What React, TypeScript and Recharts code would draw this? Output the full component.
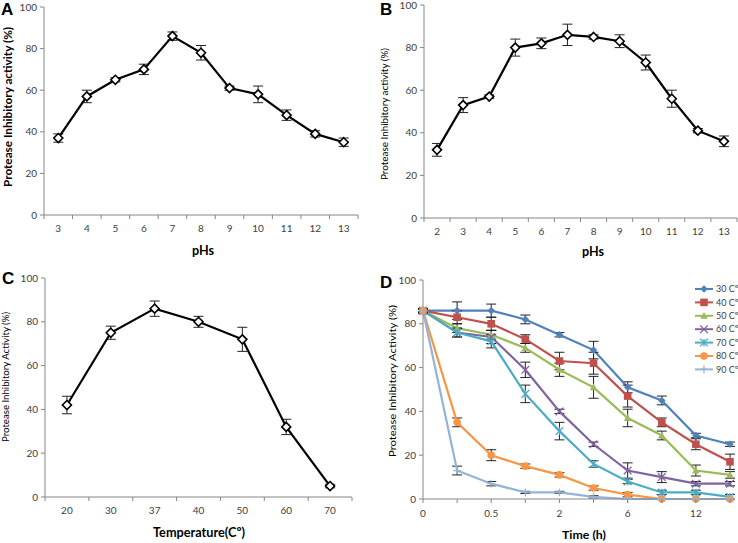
import React from "react";
import { ErrorBar, Line, LineChart, XAxis, YAxis } from "recharts";

// panel A: pH stability
const phA = ["3", "4", "5", "6", "7", "8", "9", "10", "11", "12", "13"];
const activityA = [37, 57, 65, 70, 86, 78, 61, 58, 48, 39, 35];
const errorA = [2, 3, 1, 2.5, 2, 3.5, 1, 4, 2.5, 1.5, 2];

// panel B: pH stability
const phB = ["2", "3", "4", "5", "6", "7", "8", "9", "10", "11", "12", "13"];
const activityB = [32, 53, 57, 80, 82, 86, 85, 83, 73, 56, 41, 36];
const errorB = [3, 3.5, 0.8, 4, 2.5, 5, 1, 3, 3.5, 4, 1, 2.5];

// panel C: temperature
const tempC = ["20", "30", "37", "40", "50", "60", "70"];
const activityC = [42, 75, 86, 80, 72, 32, 5];
const errorC = [4, 3, 3.5, 2.5, 5.5, 3.5, 0.8];

// panel D: thermal stability over time
const timeD = ["0", "0.25", "0.5", "1", "2", "4", "6", "9", "12", "24"];
const timeLabelsD = ["0", "", "0.5", "", "2", "", "6", "", "12", ""];
const seriesNames = ["30 Cº", "40 Cº", "50 Cº", "60 Cº", "70 Cº", "80 Cº", "90 Cº"];
const seriesColors = ["#4F81BD", "#C0504D", "#9BBB59", "#8064A2", "#4BACC6", "#F79646", "#95B3D7"];
const seriesMarkers = ["diamond", "square", "triangle", "x", "star", "circle", "plus"];

const t30 = [86, 86, 86, 82, 75, 68, 51, 45, 29, 25];
const t40 = [86, 83, 80, 73, 63, 62, 47, 35, 25, 17];
const t50 = [86, 78, 75, 69, 59, 51, 37, 29, 13, 11];
const t60 = [86, 76, 74, 59, 40, 25, 13, 10, 7, 7];
const t70 = [86, 76, 72, 48, 31, 16, 8, 3, 3, 1];
const t80 = [86, 35, 20, 15, 11, 5, 2, 0, 0, 0];
const t90 = [86, 13, 7, 3, 3, 1, 0, 0, 0, 0];

const e30 = [0.5, 4, 3, 2, 1, 4, 2.5, 2, 1, 1];
const e40 = [1, 3, 3, 2, 4, 5, 5, 2, 2.5, 3.5];
const e50 = [1, 2, 2, 2, 3, 5, 4, 2, 2.5, 1.5];
const e60 = [1, 2, 3, 3.5, 1, 1, 3.5, 2.5, 1, 1];
const e70 = [1, 2, 3, 4, 4, 1.5, 1, 1, 1, 1];
const e80 = [1, 2, 2.5, 1, 1, 1, 1, 0, 0, 0];
const e90 = [1, 2, 1, 0.5, 0.5, 0.5, 0, 0, 0, 0];

const seriesValues = [t30, t40, t50, t60, t70, t80, t90];
const seriesErrors = [e30, e40, e50, e60, e70, e80, e90];

const yTicks = [0, 20, 40, 60, 80, 100];

const AXIS = "#868686";
const TICK = "#404040";
const FONT = "Lato, 'Open Sans', sans-serif";

const BandTick = (props: any) => {
  const { x, y, payload, labels } = props;
  const v = payload.value as number;
  if (Number.isInteger(v)) {
    return (
      <text x={x} y={y + 13} dy="0.35em" textAnchor="middle" fontSize={10} fill={TICK} fontFamily={FONT}>
        {labels[v]}
      </text>
    );
  }
  return <line x1={x} x2={x} y1={y} y2={y + 4} stroke={AXIS} />;
};

const PointTick = (props: any) => {
  const { x, y, payload, labels } = props;
  return (
    <g>
      <line x1={x} x2={x} y1={y} y2={y + 4} stroke={AXIS} />
      <text x={x} y={y + 14} dy="0.35em" textAnchor="middle" fontSize={10} fill={TICK} fontFamily={FONT}>
        {labels[payload.value]}
      </text>
    </g>
  );
};

const hollowDiamond = (p: any) => {
  const r = 4.5;
  return (
    <path
      key={`d${p.index}`}
      d={`M${p.cx},${p.cy - r}L${p.cx + r},${p.cy}L${p.cx},${p.cy + r}L${p.cx - r},${p.cy}Z`}
      fill="#fff"
      stroke="#000"
      strokeWidth={1.6}
    />
  );
};

const Marker = ({ kind, cx, cy, color }: { kind: string; cx: number; cy: number; color: string }) => {
  const r = 3.8;
  switch (kind) {
    case "diamond":
      return <path d={`M${cx},${cy - r}L${cx + r},${cy}L${cx},${cy + r}L${cx - r},${cy}Z`} fill={color} />;
    case "square":
      return <rect x={cx - r} y={cy - r} width={2 * r} height={2 * r} fill={color} />;
    case "triangle":
      return <path d={`M${cx},${cy - r}L${cx + r},${cy + r * 0.8}L${cx - r},${cy + r * 0.8}Z`} fill={color} />;
    case "x":
      return (
        <path d={`M${cx - r},${cy - r}L${cx + r},${cy + r}M${cx - r},${cy + r}L${cx + r},${cy - r}`} stroke={color} strokeWidth={1.3} />
      );
    case "star":
      return (
        <path
          d={`M${cx - r},${cy - r}L${cx + r},${cy + r}M${cx - r},${cy + r}L${cx + r},${cy - r}M${cx},${cy - r}L${cx},${cy + r}`}
          stroke={color}
          strokeWidth={1.3}
        />
      );
    case "circle":
      return <circle cx={cx} cy={cy} r={r} fill={color} />;
    default:
      return <path d={`M${cx - r},${cy}L${cx + r},${cy}M${cx},${cy - r}L${cx},${cy + r}`} stroke={color} strokeWidth={1.3} />;
  }
};

type BandProps = {
  labels: string[];
  values: number[];
  errors: number[];
  left: number;
  top: number;
  width: number;
  height: number;
  plotTop: number;
  plotLeft: number;
  plotRight: number;
  plotBottom: number;
};

const BandPanel = (p: BandProps) => {
  const data = p.values.map((v, i) => ({ i, v, e: p.errors[i] }));
  const n = p.labels.length;
  const ticks: number[] = [];
  for (let k = 0; k <= 2 * n; k++) ticks.push(-0.5 + k * 0.5);
  return (
    <div style={{ position: "absolute", left: p.left, top: p.top }}>
      <LineChart
        width={p.width}
        height={p.height}
        data={data}
        margin={{ top: p.plotTop, right: p.width - p.plotRight, bottom: 0, left: 0 }}
      >
        <XAxis
          dataKey="i"
          type="number"
          domain={[-0.5, n - 0.5]}
          ticks={ticks}
          interval={0}
          tickLine={false}
          tickSize={0}
          tickMargin={0}
          height={p.height - p.plotBottom}
          axisLine={{ stroke: AXIS }}
          tick={<BandTick labels={p.labels} />}
        />
        <YAxis
          type="number"
          domain={[0, 100]}
          ticks={yTicks}
          width={p.plotLeft}
          tickSize={4}
          tickMargin={3}
          axisLine={{ stroke: AXIS }}
          tickLine={{ stroke: AXIS }}
          tick={{ fill: TICK, fontSize: 10, fontFamily: FONT }}
        />
        <Line dataKey="v" stroke="#000" strokeWidth={2.2} dot={hollowDiamond} isAnimationActive={false}>
          <ErrorBar dataKey="e" width={5} stroke="#222" strokeWidth={1} direction="y" />
        </Line>
      </LineChart>
    </div>
  );
};

const TimePanel = () => {
  const data = timeD.map((_, i) => {
    const row: Record<string, number> = { i };
    seriesValues.forEach((vals, s) => {
      row[`s${s}`] = vals[i];
      row[`e${s}`] = seriesErrors[s][i];
    });
    return row;
  });
  return (
    <div style={{ position: "absolute", left: 369, top: 270 }}>
      <LineChart width={369} height={273} data={data} margin={{ top: 10, right: 8, bottom: 0, left: 0 }}>
        <XAxis
          dataKey="i"
          type="number"
          domain={[0, timeD.length - 1]}
          ticks={timeD.map((_, i) => i)}
          interval={0}
          tickLine={false}
          tickSize={0}
          tickMargin={0}
          height={44}
          axisLine={{ stroke: AXIS }}
          tick={<PointTick labels={timeLabelsD} />}
        />
        <YAxis
          type="number"
          domain={[0, 100]}
          ticks={yTicks}
          width={54}
          tickSize={4}
          tickMargin={3}
          axisLine={{ stroke: AXIS }}
          tickLine={{ stroke: AXIS }}
          tick={{ fill: TICK, fontSize: 10, fontFamily: FONT }}
        />
        {seriesNames.map((name, s) => (
          <Line
            key={name}
            name={name}
            dataKey={`s${s}`}
            stroke={seriesColors[s]}
            strokeWidth={2.2}
            isAnimationActive={false}
            dot={(p: any) => (
              <Marker key={`m${s}-${p.index}`} kind={seriesMarkers[s]} cx={p.cx} cy={p.cy} color={seriesColors[s]} />
            )}
          >
            <ErrorBar dataKey={`e${s}`} width={5} stroke="#222" strokeWidth={1} direction="y" />
          </Line>
        ))}
      </LineChart>
    </div>
  );
};

const Title = ({ x, y, text, size, bold, len, vertical }: any) => (
  <text
    x={x}
    y={y}
    dy="0.35em"
    textAnchor="middle"
    fontSize={size}
    fontWeight={bold ? 700 : 400}
    fontFamily={FONT}
    fill="#000"
    textLength={len}
    lengthAdjust="spacingAndGlyphs"
    transform={vertical ? `rotate(-90 ${x} ${y})` : undefined}
  >
    {text}
  </text>
);

const Letter = ({ x, y, text }: any) => (
  <text x={x} y={y} fontSize={17} fontWeight={700} fontFamily="'Liberation Sans', Arial, sans-serif" fill="#000">
    {text}
  </text>
);

export default function App() {
  return (
    <div style={{ position: "absolute", left: 0, top: 0, width: 738, height: 543, background: "#fff" }}>
      <BandPanel labels={phA} values={activityA} errors={errorA} left={0} top={0} width={369} height={270}
        plotTop={7} plotLeft={44} plotRight={358} plotBottom={215} />
      <BandPanel labels={phB} values={activityB} errors={errorB} left={369} top={0} width={369} height={270}
        plotTop={5} plotLeft={55} plotRight={368} plotBottom={218} />
      <BandPanel labels={tempC} values={activityC} errors={errorC} left={0} top={270} width={369} height={273}
        plotTop={8} plotLeft={45} plotRight={352} plotBottom={227} />
      <TimePanel />
      <svg width={738} height={543} style={{ position: "absolute", left: 0, top: 0, pointerEvents: "none" }}>
        <Letter x={1} y={15} text="A" />
        <Letter x={380} y={15} text="B" />
        <Letter x={2} y={284} text="C" />
        <Letter x={380} y={288} text="D" />

        <Title x={8} y={107} text="Protease Inhibitory activity (%)" size={12} bold len={160} vertical />
        <Title x={385} y={114} text="Protease Inhibitory activity (%)" size={9.5} len={132} vertical />
        <Title x={6} y={377} text="Protease Inhibitory Activity (%)" size={9.5} len={130} vertical />
        <Title x={392} y={381} text="Protease Inhibitory Activity (%)" size={10} len={152} vertical />

        <Title x={203} y={250} text="pHs" size={13} bold len={22} />
        <Title x={593} y={251} text="pHs" size={13} bold len={22} />
        <Title x={199} y={532} text="Temperature(Cº)" size={13} bold len={92} />
        <Title x={584} y={535} text="Time (h)" size={12} bold len={44} />

        {seriesNames.map((name, s) => {
          const y = 289 + s * 13.4;
          return (
            <g key={name}>
              <line x1={695} x2={713} y1={y} y2={y} stroke={seriesColors[s]} strokeWidth={2} />
              <Marker kind={seriesMarkers[s]} cx={704} cy={y} color={seriesColors[s]} />
              <text x={716} y={y} dy="0.35em" fontSize={9} fontFamily={FONT} fill={TICK}>
                {name}
              </text>
            </g>
          );
        })}
      </svg>
    </div>
  );
}
